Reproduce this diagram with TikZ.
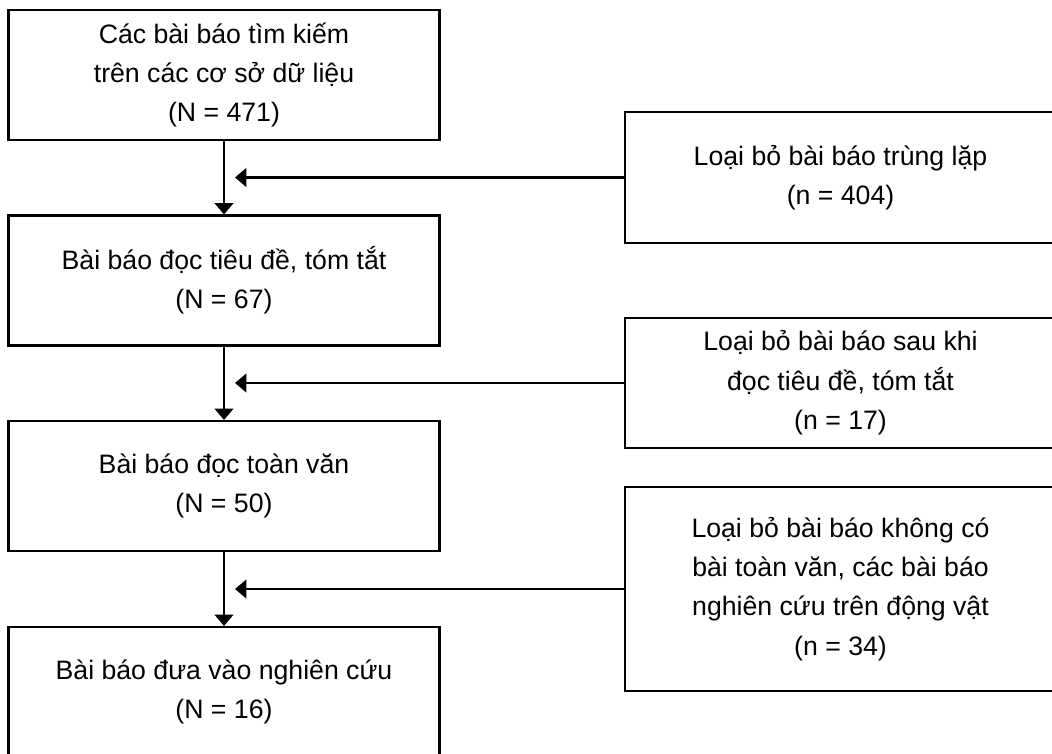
\documentclass[tikz,border=0pt]{standalone}
\usepackage{fontspec}
\setmainfont{Liberation Sans}
\usetikzlibrary{arrows.meta}
\tikzset{
  stagebox/.style={draw=black, line width=1.6pt, fill=white, align=center,
    minimum width=323.25pt, minimum height=97.5pt, inner sep=0pt,
    font=\fontsize{20}{29.5}\selectfont},
  flowline/.style={draw=black, line width=1.6pt,
    -{Triangle[width=14pt,length=8.5pt]}}
}
\begin{document}
\begin{tikzpicture}[x=0.75pt,y=-0.75pt]
\useasboundingbox (0,0) rectangle (1052,753);
\clip (0,0) rectangle (1052,753);

% main flow (left column)
\node[stagebox] (b1) at (224,75) {Các bài báo tìm kiếm\\trên các cơ sở dữ liệu\\(N = 471)};
\node[stagebox] (b2) at (224,280.5) {Bài báo đọc tiêu đề, tóm tắt\\(N = 67)};
\node[stagebox] (b3) at (224,486) {Bài báo đọc toàn văn\\(N = 50)};
\node[stagebox] (b4) at (224,692) {Bài báo đưa vào nghiên cứu\\(N = 16)};

% exclusions (right column)
\node[stagebox, minimum height=98.25pt] (r1) at (840.5,177.5) {Loại bỏ bài báo trùng lặp\\(n = 404)};
\node[stagebox] (r2) at (840.5,383) {Loại bỏ bài báo sau khi\\đọc tiêu đề, tóm tắt\\(n = 17)};
\node[stagebox, minimum height=153pt] (r3) at (840.5,589) {Loại bỏ bài báo không có\\bài toàn văn, các bài báo\\nghiên cứu trên động vật\\(n = 34)};

% arrow tips of the exclusion connectors
\coordinate (e1) at (235,177.5);
\coordinate (e2) at (235,383);
\coordinate (e3) at (235,589);

\draw[flowline] (b1.south) -- (b2.north);
\draw[flowline] (b2.south) -- (b3.north);
\draw[flowline] (b3.south) -- (b4.north);

\draw[flowline] (r1.west) -- (e1);
\draw[flowline] (r2.west) -- (e2);
\draw[flowline] (r3.west) -- (e3);
\end{tikzpicture}
\end{document}
